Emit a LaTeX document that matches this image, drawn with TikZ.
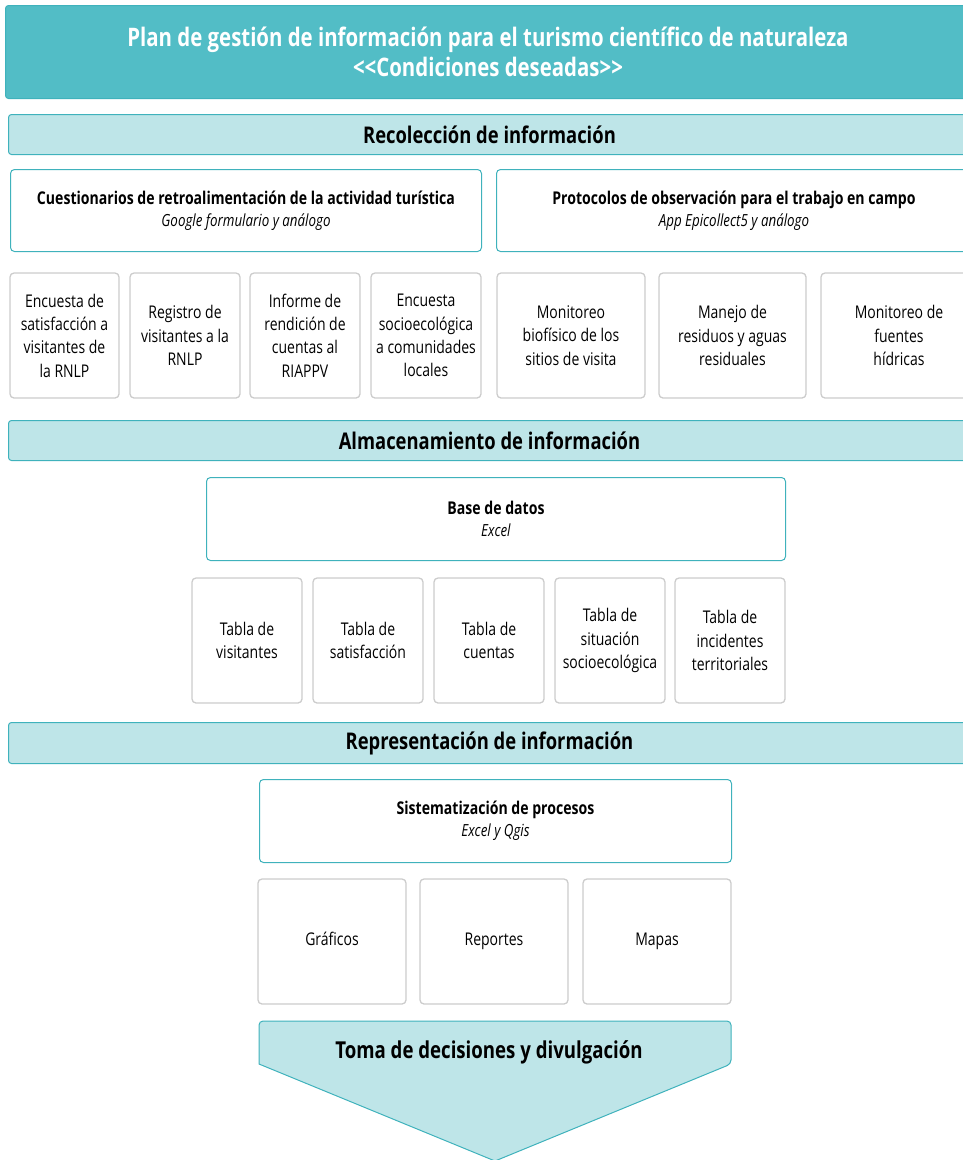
\documentclass[tikz,border=0pt]{standalone}
\usepackage{fontspec}
\setmainfont{Open Sans}[FakeStretch=0.8]
\usepackage{xcolor}
\usepackage{tikz}
\usetikzlibrary{positioning}
\definecolor{tealfuerte}{HTML}{52BDC6}
\definecolor{tealborde}{HTML}{3FB2BC}
\definecolor{tealclaro}{HTML}{BEE5E8}
\definecolor{grisborde}{HTML}{CCCCCC}
\newcommand{\fuentetit}[1]{{\fontsize{17.6}{22}\selectfont\bfseries #1}}
\tikzstyle{titulo}=[rectangle, draw=tealborde, fill=tealfuerte, rounded corners=3pt, line width=1pt,
        text=white, align=center, anchor=north west, inner sep=0pt,
        font=\bfseries\fontsize{25.5}{30}\selectfont]
\tikzstyle{seccion}=[rectangle, draw=tealborde, fill=tealclaro, rounded corners=3pt, line width=1pt,
        anchor=north west, inner sep=0pt, font=\bfseries\fontsize{23}{26}\selectfont]
\tikzstyle{fuente}=[rectangle, draw=tealborde, fill=white, rounded corners=4pt, line width=1pt,
        align=center, anchor=north west, inner sep=0pt, font=\fontsize{16.7}{22}\selectfont]
\tikzstyle{item}=[rectangle, draw=grisborde, fill=white, rounded corners=4pt, line width=1.3pt,
        align=center, anchor=north west, inner sep=0pt, outer sep=0pt, minimum height=125pt,
        font=\fontsize{17.5}{23.3}\selectfont]
\tikzstyle{simple}=[text height=12pt, text depth=4pt]

\begin{document}
\begin{tikzpicture}[x=1pt, y=-1pt, node distance=11pt]
        \useasboundingbox (0,0) rectangle (963,1160);
        \clip (0,0) rectangle (963,1160);
        % cabecera
        \node (plan) [titulo, minimum width=965pt, minimum height=93pt] at (5,5)
        {Plan de gestión de información para el turismo científico de naturaleza\\
          <{}<Condiciones deseadas>{}>};
        % recoleccion
        \node (recoleccion) [seccion, minimum width=962pt, minimum height=40pt] at (8,114)
        {Recolección de información};
        \node (cuestionarios) [fuente, minimum width=471pt, minimum height=82pt] at (10,169)
        {\fuentetit{Cuestionarios de retroalimentación de la actividad turística}\\
          \textit{Google formulario y análogo}};
        \node (protocolos) [fuente, minimum width=475pt, minimum height=82pt] at (496,169)
        {\fuentetit{Protocolos de observación para el trabajo en campo}\\
          \textit{App Epicollect5 y análogo}};
        \node (encuesta) [item, minimum width=109pt] at (10,273)
        {Encuesta de\\satisfacción a\\visitantes de\\la RNLP};
        \node (registro) [item, minimum width=110pt, right=of encuesta]
        {Registro de\\visitantes a la\\RNLP};
        \node (informe) [item, minimum width=110pt, right=10pt of registro]
        {Informe de\\rendición de\\cuentas al\\RIAPPV};
        \node (socio) [item, minimum width=110pt, right=of informe]
        {Encuesta\\socioecológica\\a comunidades\\locales};
        \node (biofisico) [item, minimum width=148pt] at (497,273)
        {Monitoreo\\biofísico de los\\sitios de visita};
        \node (residuos) [item, minimum width=147pt, right=14pt of biofisico]
        {Manejo de\\residuos y aguas\\residuales};
        \node (hidricas) [item, minimum width=156pt, right=15pt of residuos]
        {Monitoreo de\\fuentes\\hídricas};
        % almacenamiento
        \node (almacenamiento) [seccion, minimum width=962pt, minimum height=40pt] at (8,420)
        {Almacenamiento de información};
        \node (base) [fuente, minimum width=579pt, minimum height=83pt] at (206,477)
        {\fuentetit{Base de datos}\\\textit{Excel}};
        \node (tvisitantes) [item, minimum width=110pt] at (192,578)
        {Tabla de\\visitantes};
        \node (tsatisfaccion) [item, minimum width=110pt, right=of tvisitantes]
        {Tabla de\\satisfacción};
        \node (tcuentas) [item, minimum width=110pt, right=of tsatisfaccion]
        {Tabla de\\cuentas};
        \node (tsituacion) [item, minimum width=110pt, right=of tcuentas]
        {Tabla de\\situación\\socioecológica};
        \node (tincidentes) [item, minimum width=110pt, right=10pt of tsituacion]
        {Tabla de\\incidentes\\territoriales};
        % representacion
        \node (representacion) [seccion, minimum width=962pt, minimum height=41pt] at (8,722)
        {Representación de información};
        \node (sistematizacion) [fuente, minimum width=472pt, minimum height=83pt] at (259,779)
        {\fuentetit{Sistematización de procesos}\\\textit{Excel y Qgis}};
        \node (graficos) [item, simple, minimum width=148pt] at (258,879) {Gráficos};
        \node (reportes) [item, simple, minimum width=148pt, right=14pt of graficos] {Reportes};
        \node (mapas) [item, simple, minimum width=148pt, right=15pt of reportes] {Mapas};
        % toma de decisiones
        \draw [draw=tealborde, fill=tealclaro, line width=1pt, rounded corners=4pt]
          (259,1064) -- (259,1021) -- (731,1021) -- (731,1064) [sharp corners] -- (495,1161) -- cycle;
        \node (toma) at (489,1052) [font=\bfseries\fontsize{23.3}{28}\selectfont]
        {Toma de decisiones y divulgación};
\end{tikzpicture}
\end{document}
